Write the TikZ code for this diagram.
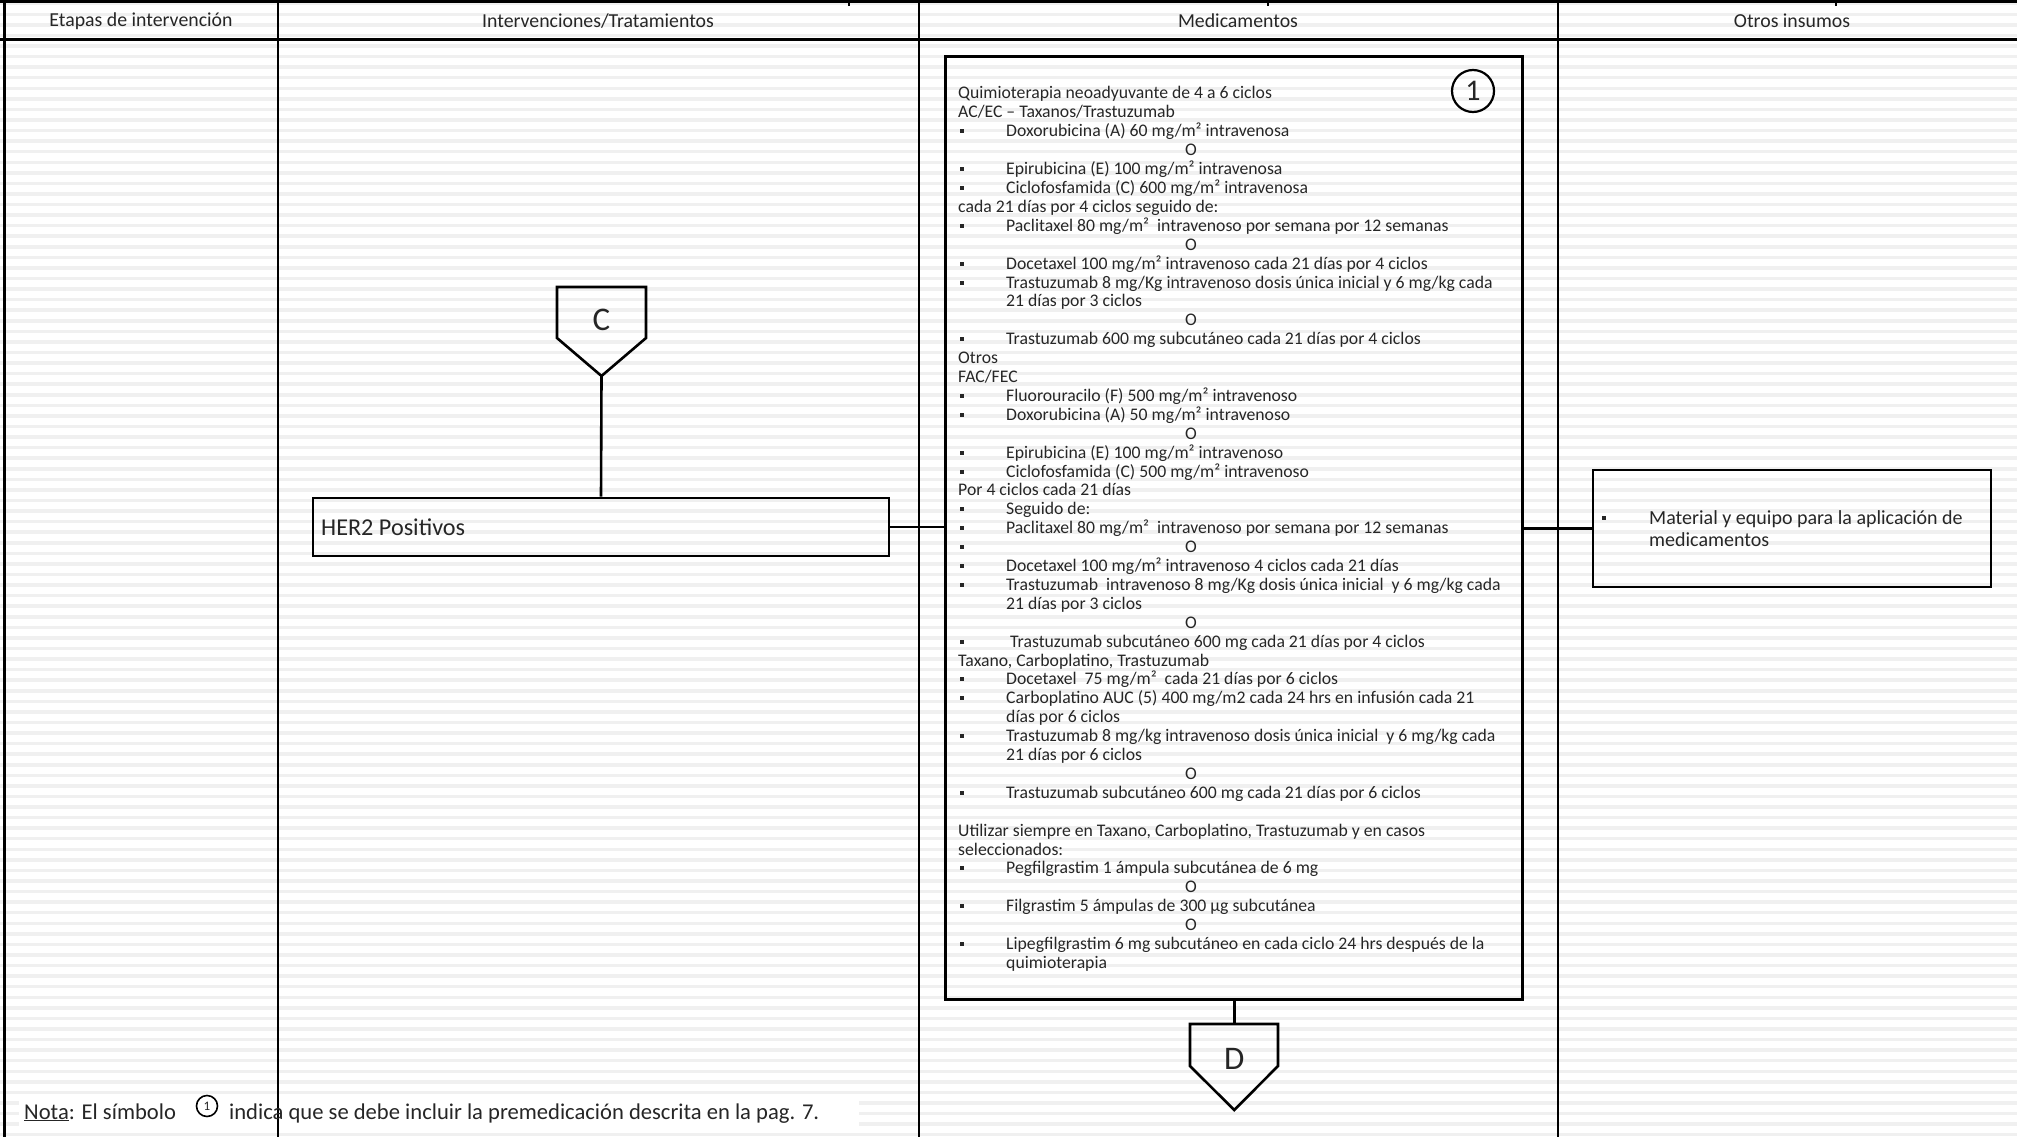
\documentclass[tikz,border=0pt]{standalone}
\usepackage{fontspec}
\setmainfont{Carlito}

\tikzset{
  raya/.style={line width=3.5pt, black!6},
  rejilla/.style={line width=2pt, black},
  caja/.style={draw, line width=2.6pt, inner sep=0pt},
  linea/.style={line width=2.6pt},
  encab/.style={font=\fontsize{19.8}{21}\selectfont, text=black!85},
  medtxt/.style={anchor=base west, inner sep=0pt, text=black!85, font=\fontsize{17.7}{18.9}\selectfont},
  bul/.style={fill=black!85, minimum size=4pt, inner sep=0pt},
  letra/.style={font=\fontsize{33}{36}\selectfont, text=black!85},
  notatxt/.style={anchor=base west, inner sep=0pt, text=black!85, font=\fontsize{22.6}{24}\selectfont},
}

% one line of the Medicamentos box: line number, text
\newcommand{\mlin}[2]{\node[medtxt] (m#1) at (958,{99+18.9*(#1-1)}) {#2};}
\newcommand{\mbul}[2]{\node[bul] (b#1) at (962,{93.5+18.9*(#1-1)}) {};
  \node[medtxt] (m#1) at (1006,{99+18.9*(#1-1)}) {#2};}
\newcommand{\mor}[1]{\node[medtxt, anchor=base] (m#1) at (1191,{99+18.9*(#1-1)}) {O};}

\begin{document}
\begin{tikzpicture}[x=1pt, y=-1pt]
    \useasboundingbox (0,0) rectangle (2017,1137);

    % fondo rayado
    \foreach \k in {0,...,107}
        \draw[raya] (0,{3.7+10.57*\k}) -- (2017,{3.7+10.57*\k});
    \fill[white] (19,1097) rectangle (859,1128);

    % tabla
    \draw[line width=3pt] (0,2) -- (2017,2);
    \draw[line width=3pt] (0,40) -- (2017,40);
    \draw[line width=3pt] (4,0) -- (4,1137);
    \draw[rejilla] (278,0) -- (278,1137);
    \draw[rejilla] (918.5,0) -- (918.5,1137);
    \draw[rejilla] (1558,0) -- (1558,1137);
    \foreach \x in {849,1268,1836}
        \draw[rejilla] (\x,0) -- (\x,6);

    \node[encab] (h1) at (141,21) {Etapas de intervención};
    \node[encab] (h2) at (598,21) {Intervenciones/Tratamientos};
    \node[encab] (h3) at (1238,21) {Medicamentos};
    \node[encab] (h4) at (1792,21) {Otros insumos};

    % cajas
    \node[caja, minimum width=576pt, minimum height=58pt] (her2) at (601,527) {};
    \node[anchor=west, inner sep=0pt, text=black!85, font=\fontsize{24.2}{26}\selectfont] (her2t) at (321,527) {HER2 Positivos};
    \node[caja, minimum width=577pt, minimum height=943pt] (med) at (1234.25,528) {};
    \node[caja, minimum width=398pt, minimum height=117pt] (insumos) at (1792,528.5) {};

    % conectores C y D
    \node[letra] (C) at (601.5,320) {C};
    \draw[linea, line join=miter] (557,287) -- (646,287) -- (646,338) -- (601.5,376) coordinate (Ctip) -- (557,338) -- cycle;
    \draw[linea] (Ctip) -- (her2.north);

    \node[letra] (D) at (1234.25,1059) {D};
    \draw[linea, line join=miter] (1190,1024) coordinate (Dizq) -- (1278,1024) -- (1278,1066) -- (1234.25,1110) -- (1190,1066) -- cycle;
    \coordinate (Dtop) at (1234.25,1024);
    \draw[linea] (med.south) -- (Dtop);

    \draw[linea] (her2.east) -- (her2.east -| med.west);
    \draw[linea] (med.east) -- (med.east |- insumos.west) -- (insumos.west);

    % texto de medicamentos
    \node[draw, circle, line width=2.2pt, minimum size=42pt, inner sep=0pt, text=black!85, font=\fontsize{30}{32}\selectfont] (uno) at (1473,91) {1};

    \mlin{1}{Quimioterapia neoadyuvante de 4 a 6 ciclos}
    \mlin{2}{AC/EC -- Taxanos/Trastuzumab}
    \mbul{3}{Doxorubicina (A) 60 mg/m² intravenosa}
    \mor{4}
    \mbul{5}{Epirubicina (E) 100 mg/m² intravenosa}
    \mbul{6}{Ciclofosfamida (C) 600 mg/m² intravenosa}
    \mlin{7}{cada 21 días por 4 ciclos seguido de:}
    \mbul{8}{Paclitaxel 80 mg/m²\ \ intravenoso por semana por 12 semanas}
    \mor{9}
    \mbul{10}{Docetaxel 100 mg/m² intravenoso cada 21 días por 4 ciclos}
    \mbul{11}{Trastuzumab 8 mg/Kg intravenoso dosis única inicial y 6 mg/kg cada}
    \node[medtxt] (m12) at (1006,{99+18.9*11}) {21 días por 3 ciclos};
    \mor{13}
    \mbul{14}{Trastuzumab 600 mg subcutáneo cada 21 días por 4 ciclos}
    \mlin{15}{Otros}
    \mlin{16}{FAC/FEC}
    \mbul{17}{Fluorouracilo (F) 500 mg/m² intravenoso}
    \mbul{18}{Doxorubicina (A) 50 mg/m² intravenoso}
    \mor{19}
    \mbul{20}{Epirubicina (E) 100 mg/m² intravenoso}
    \mbul{21}{Ciclofosfamida (C) 500 mg/m² intravenoso}
    \mlin{22}{Por 4 ciclos cada 21 días}
    \mbul{23}{Seguido de:}
    \mbul{24}{Paclitaxel 80 mg/m²\ \ intravenoso por semana por 12 semanas}
    \node[bul] (b25) at (962,{93.5+18.9*24}) {};
    \mor{25}
    \mbul{26}{Docetaxel 100 mg/m² intravenoso 4 ciclos cada 21 días}
    \mbul{27}{Trastuzumab\ \ intravenoso 8 mg/Kg dosis única inicial\ \ y 6 mg/kg cada}
    \node[medtxt] (m28) at (1006,{99+18.9*27}) {21 días por 3 ciclos};
    \mor{29}
    \mbul{30}{\hspace{4pt}Trastuzumab subcutáneo 600 mg cada 21 días por 4 ciclos}
    \mlin{31}{Taxano, Carboplatino, Trastuzumab}
    \mbul{32}{Docetaxel\ \ 75 mg/m²\ \ cada 21 días por 6 ciclos}
    \mbul{33}{Carboplatino AUC (5) 400 mg/m2 cada 24 hrs en infusión cada 21}
    \node[medtxt] (m34) at (1006,{99+18.9*33}) {días por 6 ciclos};
    \mbul{35}{Trastuzumab 8 mg/kg intravenoso dosis única inicial\ \ y 6 mg/kg cada}
    \node[medtxt] (m36) at (1006,{99+18.9*35}) {21 días por 6 ciclos};
    \mor{37}
    \mbul{38}{Trastuzumab subcutáneo 600 mg cada 21 días por 6 ciclos}
    \mlin{40}{Utilizar siempre en Taxano, Carboplatino, Trastuzumab y en casos}
    \mlin{41}{seleccionados:}
    \mbul{42}{Pegfilgrastim 1 ámpula subcutánea de 6 mg}
    \mor{43}
    \mbul{44}{Filgrastim 5 ámpulas de 300 µg subcutánea}
    \mor{45}
    \mbul{46}{Lipegfilgrastim 6 mg subcutáneo en cada ciclo 24 hrs después de la}
    \node[medtxt] (m47) at (1006,{99+18.9*46}) {quimioterapia};

    % otros insumos
    \node[bul] (ib) at (1604,518) {};
    \node[medtxt, font=\fontsize{20}{22}\selectfont] (it1) at (1649,524) {Material y equipo para la aplicación de};
    \node[medtxt, font=\fontsize{20}{22}\selectfont] (it2) at (1649,546) {medicamentos};

    % nota
    \node[notatxt] (nota1) at (24,1119) {\underline{Nota}: El símbolo};
    \node[draw, circle, line width=1.6pt, minimum size=21pt, inner sep=0pt, text=black!85, font=\fontsize{13}{14}\selectfont] (nsim) at (207,1106) {1};
    \node[notatxt] (nota2) at (229,1119) {indica que se debe incluir la premedicación descrita en la pag. 7.};
\end{tikzpicture}
\end{document}
